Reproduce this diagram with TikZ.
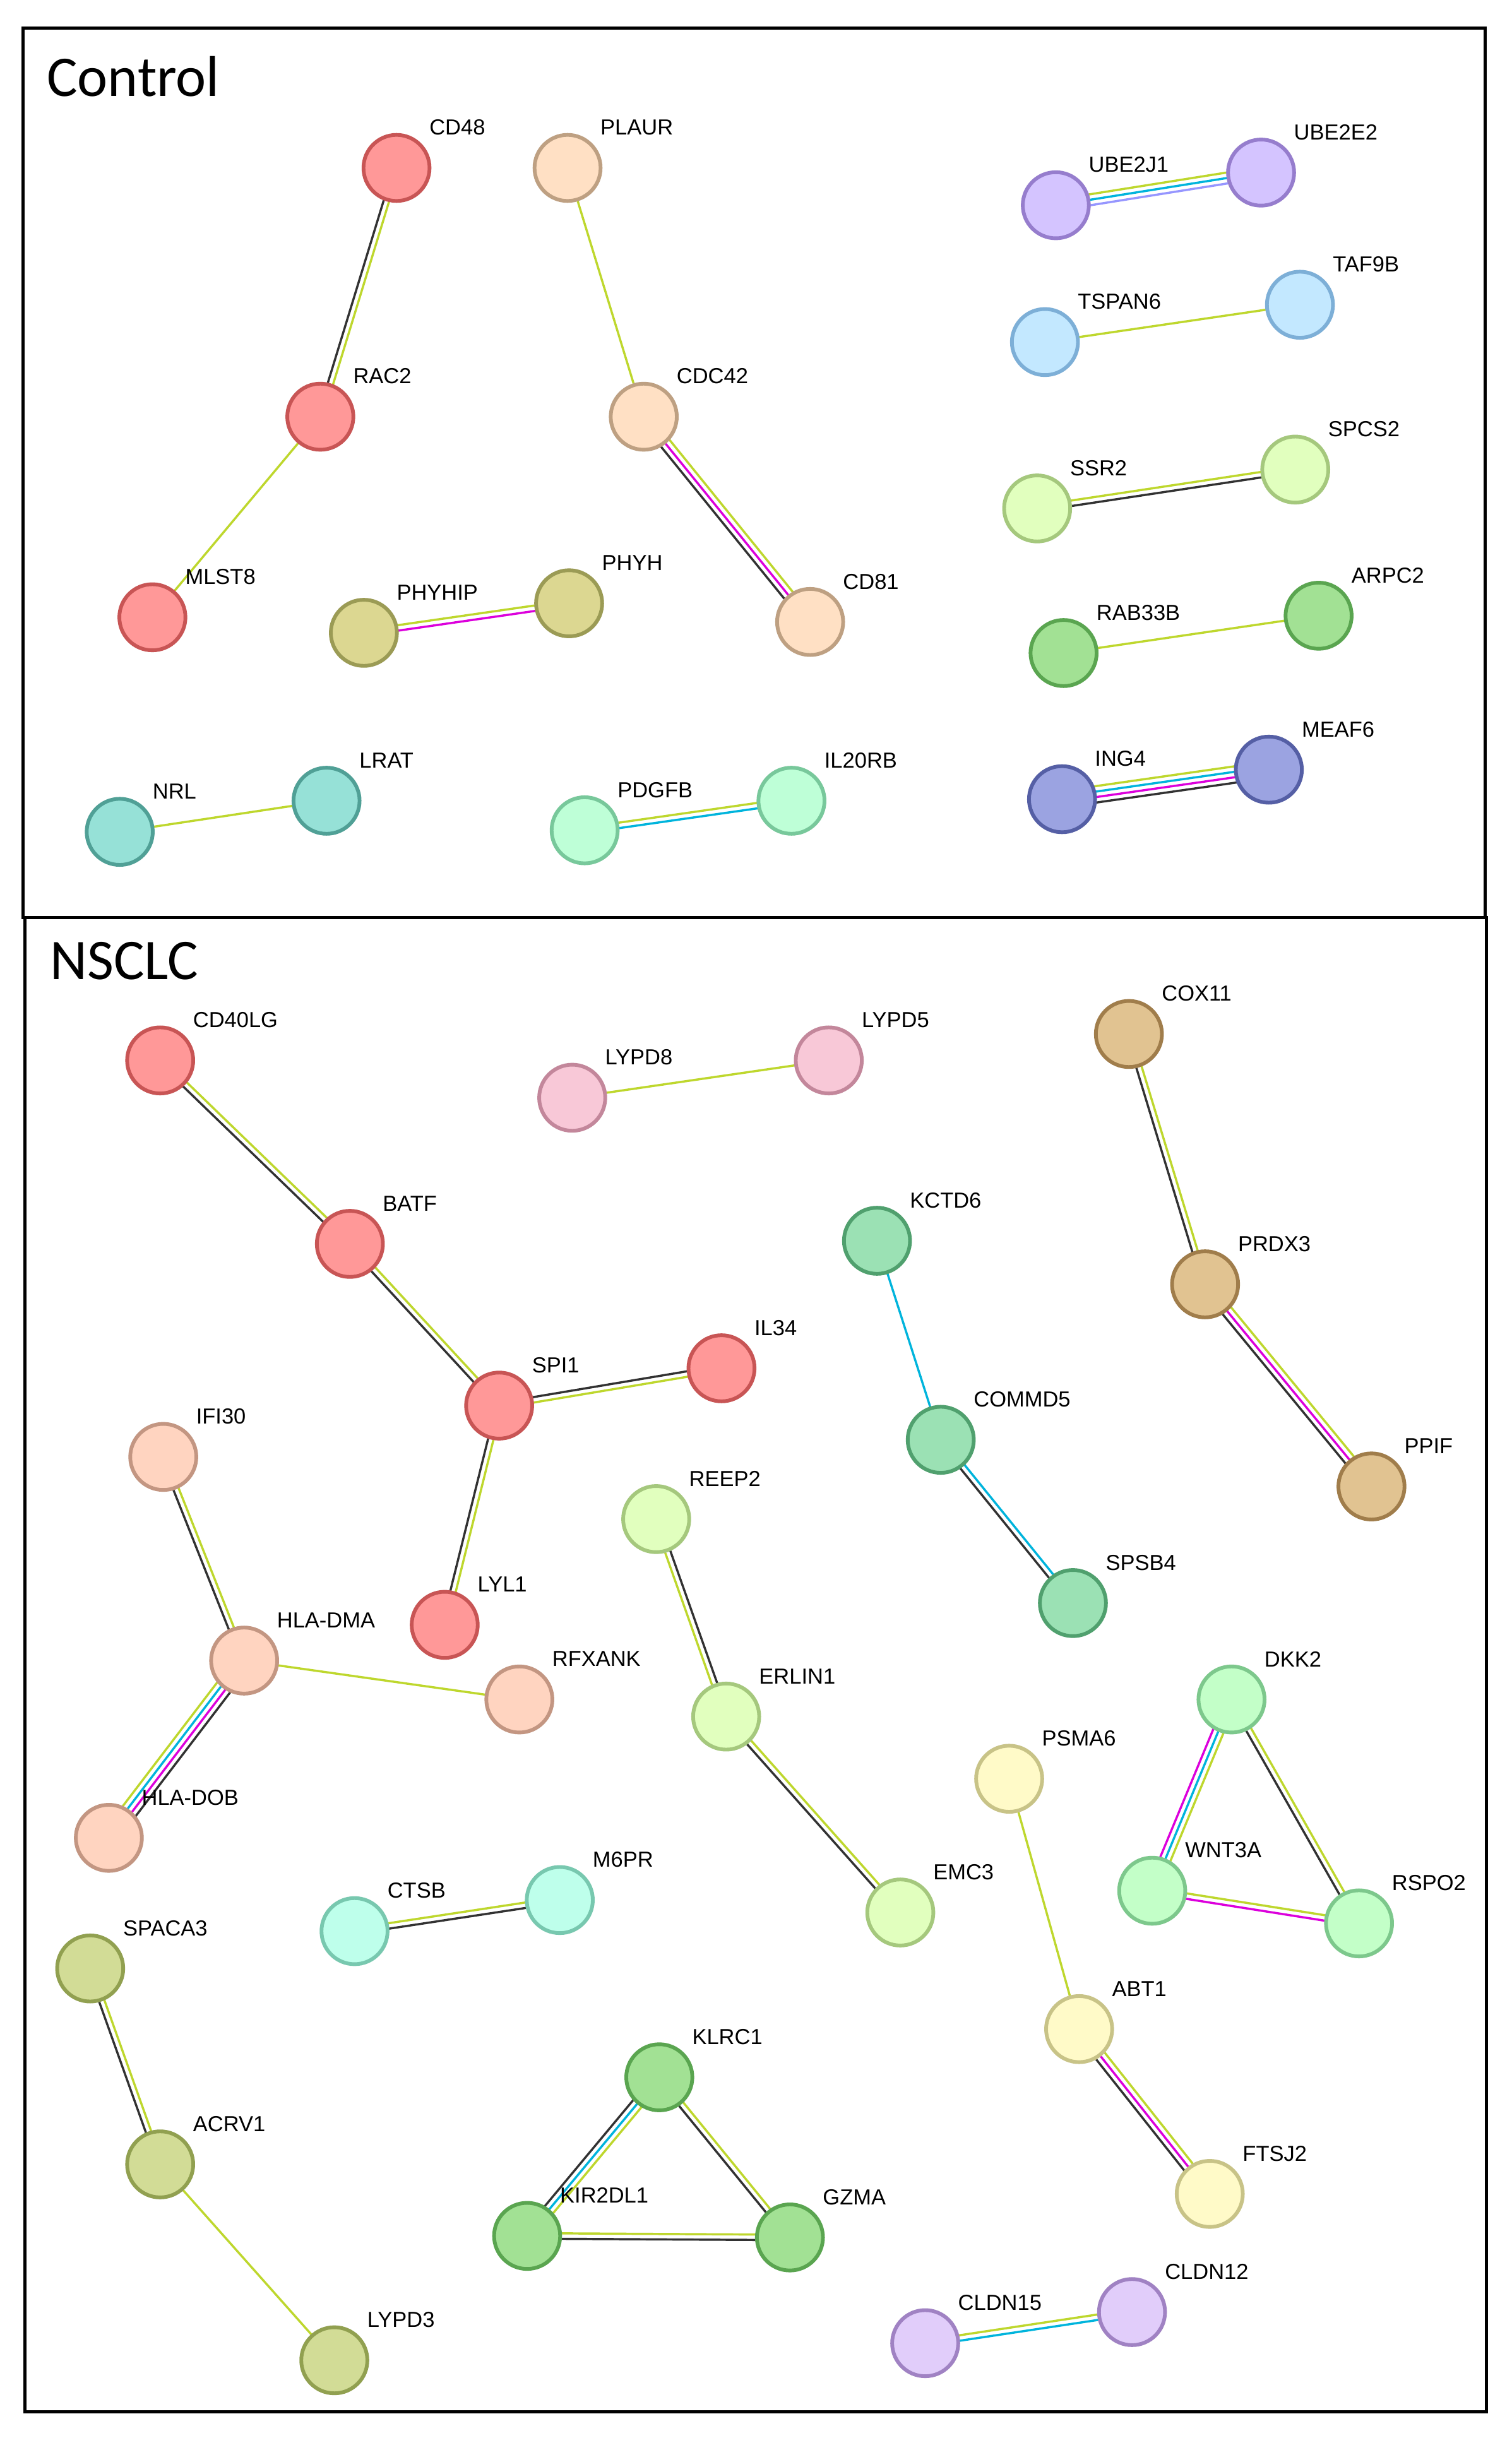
\documentclass[tikz,border=0pt]{standalone}
\usepackage{fontspec}
\usetikzlibrary{calc,backgrounds}
\newfontfamily\labfont{Liberation Sans}
\newfontfamily\ttlfont{Carlito}
% edge colours
\definecolor{ecTM}{RGB}{190,215,45}
\definecolor{ecCO}{RGB}{50,50,50}
\definecolor{ecEX}{RGB}{220,0,220}
\definecolor{ecDB}{RGB}{0,180,220}
\definecolor{ecHOM}{RGB}{150,150,255}
% node colours
\definecolor{redF}{RGB}{255,152,152}\definecolor{redD}{RGB}{200,85,85}
\definecolor{peachF}{RGB}{255,224,196}\definecolor{peachD}{RGB}{190,160,130}
\definecolor{purF}{RGB}{212,196,255}\definecolor{purD}{RGB}{150,125,205}
\definecolor{lblueF}{RGB}{195,232,255}\definecolor{lblueD}{RGB}{125,175,215}
\definecolor{ygF}{RGB}{225,255,190}\definecolor{ygD}{RGB}{165,200,125}
\definecolor{gF}{RGB}{162,225,148}\definecolor{gD}{RGB}{90,165,80}
\definecolor{bF}{RGB}{155,163,225}\definecolor{bD}{RGB}{85,95,165}
\definecolor{olF}{RGB}{220,215,145}\definecolor{olD}{RGB}{155,155,85}
\definecolor{tealF}{RGB}{150,225,215}\definecolor{tealD}{RGB}{80,160,150}
\definecolor{mintF}{RGB}{190,255,215}\definecolor{mintD}{RGB}{120,200,155}
\definecolor{pinkF}{RGB}{248,200,215}\definecolor{pinkD}{RGB}{195,135,155}
\definecolor{tanF}{RGB}{225,195,145}\definecolor{tanD}{RGB}{160,125,75}
\definecolor{gtF}{RGB}{155,225,180}\definecolor{gtD}{RGB}{80,160,110}
\definecolor{pchF}{RGB}{255,212,192}\definecolor{pchD}{RGB}{195,150,130}
\definecolor{lgF}{RGB}{195,255,200}\definecolor{lgD}{RGB}{125,200,140}
\definecolor{lyF}{RGB}{255,250,200}\definecolor{lyD}{RGB}{200,195,135}
\definecolor{cyF}{RGB}{190,255,235}\definecolor{cyD}{RGB}{120,200,175}
\definecolor{olbF}{RGB}{210,220,150}\definecolor{olbD}{RGB}{145,160,80}
\definecolor{pubF}{RGB}{225,205,250}\definecolor{pubD}{RGB}{160,130,195}

\tikzset{
  gn/.style={circle, minimum size=42.5pt, inner sep=0pt, line width=2.4pt},
  lbl/.style={anchor=west, inner sep=0pt, xshift=21pt, yshift=26pt,
     font=\labfont\fontsize{14}{16}\selectfont, text=black},
  elin/.style={line width=1.4pt},
  frame/.style={draw=black, line width=2pt},
  ttl/.style={anchor=base west, inner sep=0pt, font=\ttlfont\fontsize{37}{44}\selectfont}
}
\newcommand{\edgesep}{3.5}
\newcommand{\gene}[5]{\node[gn, fill=#4F, draw=#4D] (#1) at (#2,#3) {};
  \node[lbl] (#1-l) at (#1.center) {#5};}
\newcommand{\medge}[3]{%
  \foreach \cc [count=\ii] in {#3} {\xdef\ncount{\ii}}%
  \foreach \cc [count=\ii] in {#3} {%
    \pgfmathsetmacro{\off}{((\ncount+1)/2-\ii)*\edgesep}%
    \draw[elin, \cc] ($(#1.center)!\off pt!90:(#2.center)$) -- ($(#2.center)!\off pt!-90:(#1.center)$);
  }%
}

\begin{document}
\begin{tikzpicture}[x=1pt,y=-1pt]
\useasboundingbox (0,0) rectangle (972,1568);
% frames
\draw[frame] (15,18) rectangle (955,590);
\draw[frame] (16,590) rectangle (956,1551);
\node[ttl] (tctrl) at (30,62) {Control};
\node[ttl] (tnsclc) at (32,630) {NSCLC};

% ---------------- Control ----------------
\gene{cd48}{255}{108}{red}{CD48}
\gene{plaur}{365}{108}{peach}{PLAUR}
\gene{rac2}{206}{268}{red}{RAC2}
\gene{cdc42}{414}{268}{peach}{CDC42}
\gene{mlst8}{98}{397}{red}{MLST8}
\gene{phyhip}{234}{407}{ol}{PHYHIP}
\gene{phyh}{366}{388}{ol}{PHYH}
\gene{cd81}{521}{400}{peach}{CD81}
\gene{nrl}{77}{535}{teal}{NRL}
\gene{lrat}{210}{515}{teal}{LRAT}
\gene{pdgfb}{376}{534}{mint}{PDGFB}
\gene{il20rb}{509}{515}{mint}{IL20RB}
\gene{ube2j1}{679}{132}{pur}{UBE2J1}
\gene{ube2e2}{811}{111}{pur}{UBE2E2}
\gene{tspan6}{672}{220}{lblue}{TSPAN6}
\gene{taf9b}{836}{196}{lblue}{TAF9B}
\gene{ssr2}{667}{327}{yg}{SSR2}
\gene{spcs2}{833}{302}{yg}{SPCS2}
\gene{rab33b}{684}{420}{g}{RAB33B}
\gene{arpc2}{848}{396}{g}{ARPC2}
\gene{ing4}{683}{514}{b}{ING4}
\gene{meaf6}{816}{495}{b}{MEAF6}

% ---------------- NSCLC ----------------
\gene{cd40lg}{103}{682}{red}{CD40LG}
\gene{lypd8}{368}{706}{pink}{LYPD8}
\gene{lypd5}{533}{682}{pink}{LYPD5}
\gene{cox11}{726}{665}{tan}{COX11}
\gene{batf}{225}{800}{red}{BATF}
\gene{kctd6}{564}{798}{gt}{KCTD6}
\gene{prdx3}{775}{826}{tan}{PRDX3}
\gene{spi1}{321}{904}{red}{SPI1}
\gene{il34}{464}{880}{red}{IL34}
\gene{commd5}{605}{926}{gt}{COMMD5}
\gene{ppif}{882}{956}{tan}{PPIF}
\gene{ifi30}{105}{937}{pch}{IFI30}
\gene{reep2}{422}{977}{yg}{REEP2}
\gene{spsb4}{690}{1031}{gt}{SPSB4}
\gene{lyl1}{286}{1045}{red}{LYL1}
\gene{hladma}{157}{1068}{pch}{HLA-DMA}
\gene{rfxank}{334}{1093}{pch}{RFXANK}
\gene{erlin1}{467}{1104}{yg}{ERLIN1}
\gene{dkk2}{792}{1093}{lg}{DKK2}
\gene{psma6}{649}{1144}{ly}{PSMA6}
\gene{hladob}{70}{1182}{pch}{HLA-DOB}
\gene{wnt3a}{741}{1216}{lg}{WNT3A}
\gene{rspo2}{874}{1237}{lg}{RSPO2}
\gene{emc3}{579}{1230}{yg}{EMC3}
\gene{ctsb}{228}{1242}{cy}{CTSB}
\gene{m6pr}{360}{1222}{cy}{M6PR}
\gene{spaca3}{58}{1266}{olb}{SPACA3}
\gene{abt1}{694}{1305}{ly}{ABT1}
\gene{klrc1}{424}{1336}{g}{KLRC1}
\gene{acrv1}{103}{1392}{olb}{ACRV1}
\gene{ftsj2}{778}{1411}{ly}{FTSJ2}
\gene{kir2dl1}{339}{1438}{g}{KIR2DL1}
\gene{gzma}{508}{1439}{g}{GZMA}
\gene{cldn12}{728}{1487}{pub}{CLDN12}
\gene{cldn15}{595}{1507}{pub}{CLDN15}
\gene{lypd3}{215}{1518}{olb}{LYPD3}

\begin{scope}[on background layer]
\fill[white] (0,0) rectangle (972,1568);
% Control edges
\medge{cd48}{rac2}{ecTM,ecCO}
\medge{rac2}{mlst8}{ecTM}
\medge{plaur}{cdc42}{ecTM}
\medge{cdc42}{cd81}{ecTM,ecEX,ecCO}
\medge{phyhip}{phyh}{ecTM,ecEX}
\medge{nrl}{lrat}{ecTM}
\medge{pdgfb}{il20rb}{ecTM,ecDB}
\medge{ube2j1}{ube2e2}{ecTM,ecDB,ecHOM}
\medge{tspan6}{taf9b}{ecTM}
\medge{ssr2}{spcs2}{ecTM,ecCO}
\medge{rab33b}{arpc2}{ecTM}
\medge{ing4}{meaf6}{ecTM,ecDB,ecEX,ecCO}
% NSCLC edges
\medge{cd40lg}{batf}{ecTM,ecCO}
\medge{batf}{spi1}{ecTM,ecCO}
\medge{spi1}{il34}{ecCO,ecTM}
\medge{spi1}{lyl1}{ecTM,ecCO}
\medge{lypd8}{lypd5}{ecTM}
\medge{cox11}{prdx3}{ecTM,ecCO}
\medge{prdx3}{ppif}{ecTM,ecEX,ecCO}
\medge{kctd6}{commd5}{ecDB}
\medge{commd5}{spsb4}{ecDB,ecCO}
\medge{ifi30}{hladma}{ecTM,ecCO}
\medge{hladma}{rfxank}{ecTM}
\medge{hladma}{hladob}{ecCO,ecEX,ecDB,ecTM}
\medge{reep2}{erlin1}{ecCO,ecTM}
\medge{erlin1}{emc3}{ecTM,ecCO}
\medge{dkk2}{wnt3a}{ecTM,ecDB,ecEX}
\medge{dkk2}{rspo2}{ecTM,ecCO}
\medge{wnt3a}{rspo2}{ecTM,ecEX}
\medge{psma6}{abt1}{ecTM}
\medge{abt1}{ftsj2}{ecTM,ecEX,ecCO}
\medge{ctsb}{m6pr}{ecTM,ecCO}
\medge{spaca3}{acrv1}{ecTM,ecCO}
\medge{acrv1}{lypd3}{ecTM}
\medge{klrc1}{kir2dl1}{ecTM,ecDB,ecCO}
\medge{klrc1}{gzma}{ecTM,ecCO}
\medge{kir2dl1}{gzma}{ecTM,ecCO}
\medge{cldn15}{cldn12}{ecTM,ecDB}
\end{scope}
\end{tikzpicture}
\end{document}
